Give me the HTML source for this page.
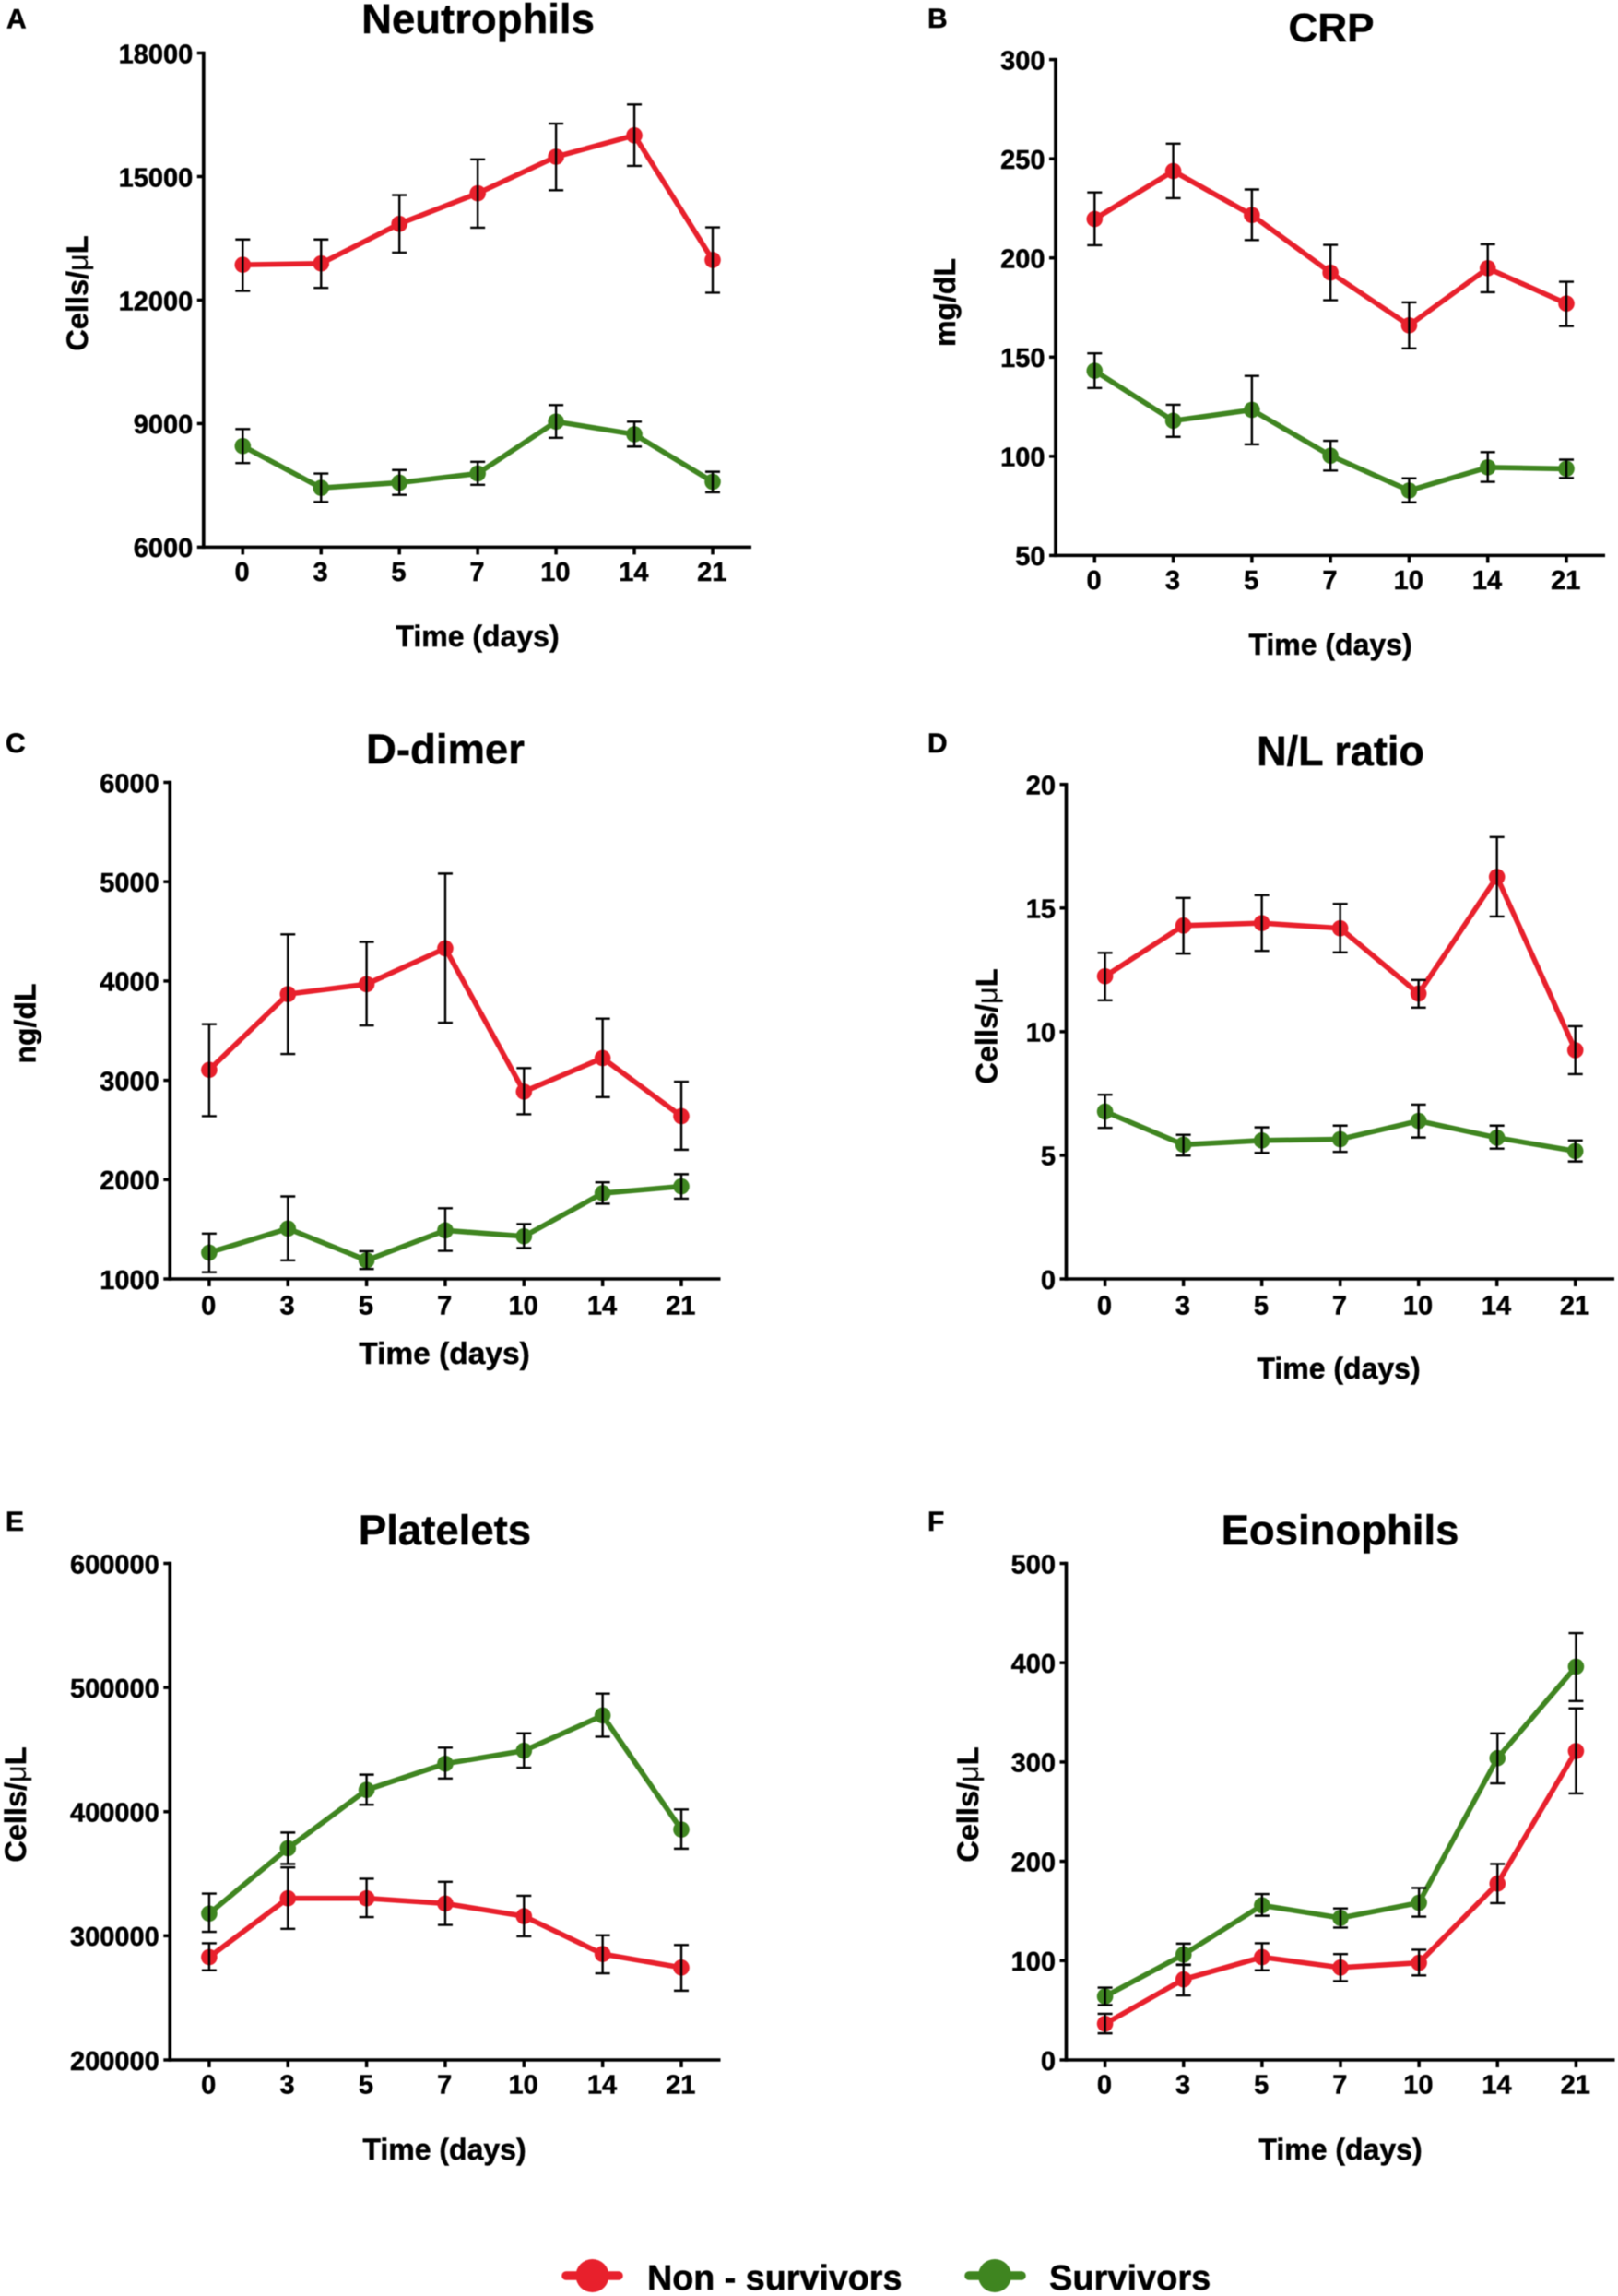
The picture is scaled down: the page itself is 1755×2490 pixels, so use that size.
<!DOCTYPE html>
<html lang="en">
<head>
<meta charset="utf-8">
<title>Laboratory time courses in survivors and non-survivors</title>
<style>
html,body{margin:0;padding:0;background:#fff;}
svg{display:block;filter:blur(0.45px);}
text{font-family:"Liberation Sans",sans-serif;font-weight:700;fill:#000;stroke:#000;stroke-width:0.45px;}
.tick{font-size:29px;}
.mu{font-weight:400;stroke-width:0;}
</style>
</head>
<body>
<svg id="figure" xmlns="http://www.w3.org/2000/svg" width="1755" height="2490" viewBox="0 0 1755 2490">
  <rect x="0" y="0" width="1755" height="2490" fill="#fff"/>

  <text x="7" y="30.5" font-size="30">A</text>
  <text x="1006" y="30" font-size="30">B</text>
  <text x="6" y="816" font-size="30">C</text>
  <text x="1006" y="816" font-size="30">D</text>
  <text x="6" y="1660" font-size="30">E</text>
  <text x="1006" y="1660" font-size="30">F</text>

  <text x="518.5" y="36" font-size="45.5" text-anchor="middle">Neutrophils</text>
  <text x="1444" y="45" font-size="44" text-anchor="middle">CRP</text>
  <text x="483" y="828" font-size="45.5" text-anchor="middle">D-dimer</text>
  <text x="1454" y="830" font-size="45" text-anchor="middle">N/L ratio</text>
  <text x="482.5" y="1675" font-size="45.5" text-anchor="middle">Platelets</text>
  <text x="1453.5" y="1675" font-size="45.5" text-anchor="middle">Eosinophils</text>

  <text x="518" y="701" font-size="32" text-anchor="middle">Time (days)</text>
  <text x="1443" y="710" font-size="32" text-anchor="middle">Time (days)</text>
  <text x="482" y="1479" font-size="33.5" text-anchor="middle">Time (days)</text>
  <text x="1452" y="1495" font-size="32" text-anchor="middle">Time (days)</text>
  <text x="482" y="2342" font-size="32" text-anchor="middle">Time (days)</text>
  <text x="1454" y="2342" font-size="32" text-anchor="middle">Time (days)</text>

  <text transform="translate(95 318) rotate(-90)" font-size="32.5" text-anchor="middle">Cells/<tspan class="mu">μ</tspan>L</text>
  <text transform="translate(1036 328) rotate(-90)" font-size="32" text-anchor="middle">mg/dL</text>
  <text transform="translate(38.5 1110) rotate(-90)" font-size="32" text-anchor="middle">ng/dL</text>
  <text transform="translate(1081.5 1113) rotate(-90)" font-size="32.5" text-anchor="middle">Cells/<tspan class="mu">μ</tspan>L</text>
  <text transform="translate(28 1957) rotate(-90)" font-size="32.5" text-anchor="middle">Cells/<tspan class="mu">μ</tspan>L</text>
  <text transform="translate(1061 1957) rotate(-90)" font-size="32.5" text-anchor="middle">Cells/<tspan class="mu">μ</tspan>L</text>

  <g>
    <g>
      <line x1="614" y1="2468" x2="671" y2="2468" stroke="#e8202c" stroke-width="9.5" stroke-linecap="round"/>
      <circle cx="642.5" cy="2468" r="18" fill="#e8202c"/>
      <text x="702" y="2483" font-size="37.7">Non - survivors</text>
    </g>
    <g>
      <line x1="1051" y1="2468" x2="1108" y2="2468" stroke="#3f8520" stroke-width="9.5" stroke-linecap="round"/>
      <circle cx="1079" cy="2468" r="18" fill="#3f8520"/>
      <text x="1138" y="2483" font-size="38">Survivors</text>
    </g>
  </g>
</svg>

<script>
// Shared category labels
var days = ["0", "3", "5", "7", "10", "14", "21"];

// Neutrophils
var neutrophilsTicks = [6000, 9000, 12000, 15000, 18000];
var neutrophilsNonSurvivors = [12857, 12889, 13852, 14593, 15481, 16000, 12974];
var neutrophilsNonSurvivorsUpper = [13471, 13471, 14550, 15418, 16286, 16751, 13767];
var neutrophilsNonSurvivorsLower = [12222, 12296, 13153, 13757, 14667, 15259, 12180];
var neutrophilsSurvivors = [8455, 7439, 7566, 7788, 9048, 8741, 7587];
var neutrophilsSurvivorsUpper = [8868, 7788, 7873, 8074, 9450, 9048, 7831];
var neutrophilsSurvivorsLower = [8042, 7100, 7270, 7513, 8656, 8444, 7333];

// CRP
var crpTicks = [50, 100, 150, 200, 250, 300];
var crpNonSurvivors = [219.6, 243.8, 221.6, 192.6, 166, 194.8, 177];
var crpNonSurvivorsUpper = [233, 257.6, 234.5, 206.6, 177.6, 206.9, 188];
var crpNonSurvivorsLower = [206.4, 230.1, 209, 178.7, 154.4, 182.7, 165.6];
var crpSurvivors = [143.1, 117.9, 123.4, 100.3, 82.7, 94.4, 93.7];
var crpSurvivorsUpper = [151.9, 126, 140.5, 107.8, 88.9, 102.1, 98.3];
var crpSurvivorsLower = [134.4, 109.8, 106, 92.8, 76.8, 87.1, 89.1];

// D-dimer
var dDimerTicks = [1000, 2000, 3000, 4000, 5000, 6000];
var dDimerNonSurvivors = [3105, 3868, 3968, 4329, 2886, 3224, 2639];
var dDimerNonSurvivorsUpper = [3566, 4470, 4393, 5082, 3123, 3621, 2986];
var dDimerNonSurvivorsLower = [2639, 3265, 3553, 3580, 2658, 2831, 2301];
var dDimerSurvivors = [1265, 1507, 1187, 1489, 1429, 1863, 1932];
var dDimerSurvivorsUpper = [1457, 1831, 1279, 1712, 1553, 1973, 2055];
var dDimerSurvivorsLower = [1068, 1187, 1100, 1283, 1311, 1758, 1808];

// N/L ratio
var nlRatioTicks = [0, 5, 10, 15, 20];
var nlRatioNonSurvivors = [12.24, 14.29, 14.39, 14.18, 11.54, 16.26, 9.25];
var nlRatioNonSurvivorsUpper = [13.19, 15.41, 15.52, 15.17, 12.09, 17.87, 10.22];
var nlRatioNonSurvivorsLower = [11.27, 13.16, 13.27, 13.21, 10.97, 14.66, 8.28];
var nlRatioSurvivors = [6.77, 5.43, 5.6, 5.65, 6.39, 5.71, 5.17];
var nlRatioSurvivorsUpper = [7.45, 5.83, 6.13, 6.2, 7.05, 6.2, 5.6];
var nlRatioSurvivorsLower = [6.11, 4.99, 5.1, 5.14, 5.72, 5.27, 4.75];

// Platelets
var plateletsTicks = [200000, 300000, 400000, 500000, 600000];
var plateletsNonSurvivors = [282800, 330200, 330200, 326000, 315800, 285300, 274400];
var plateletsNonSurvivorsUpper = [294000, 355100, 346000, 343500, 332300, 300400, 292600];
var plateletsNonSurvivorsLower = [272300, 305600, 315100, 308800, 299600, 269800, 255800];
var plateletsSurvivors = [317900, 370500, 417500, 438600, 449100, 477500, 385600];
var plateletsSurvivorsUpper = [334000, 383200, 429800, 451600, 463200, 495100, 401800];
var plateletsSurvivorsLower = [303200, 357900, 405600, 426700, 435400, 460400, 370200];

// Eosinophils
var eosinophilsTicks = [0, 100, 200, 300, 400, 500];
var eosinophilsNonSurvivors = [36.4, 81.1, 103.5, 93, 97.8, 177.6, 311];
var eosinophilsNonSurvivorsUpper = [46.5, 96, 117.5, 106.6, 111, 197.4, 354];
var eosinophilsNonSurvivorsLower = [26.8, 64.9, 90.4, 79.4, 85.1, 157.9, 268.4];
var eosinophilsSurvivors = [64, 106.1, 155.7, 143, 158.3, 303.9, 396];
var eosinophilsSurvivorsUpper = [72.8, 117.1, 167.1, 152.6, 173.2, 328.9, 429.8];
var eosinophilsSurvivorsLower = [55.3, 95.6, 145.2, 133.3, 144.3, 278.5, 361.4];

var RED = "#e8202c";
var GREEN = "#3f8520";
var NS = "http://www.w3.org/2000/svg";
var svg = document.getElementById("figure");

function make(tag, parent, attrs) {
  var el = document.createElementNS(NS, tag);
  for (var k in attrs) { el.setAttribute(k, attrs[k]); }
  parent.appendChild(el);
  return el;
}

function drawSeries(g, panelKey, seriesKey, color, xScale, yScale, mean, upper, lower) {
  var sg = make("g", g, {});
  
  

  var pts = mean.map(function (v, i) { return xScale(i).toFixed(2) + "," + yScale(v).toFixed(2); }).join(" ");
  var line = make("polyline", sg, { points: pts, fill: "none", stroke: color, "stroke-width": 5.6, "stroke-linejoin": "miter" });
  
  

  mean.forEach(function (v, i) {
    var dot = make("circle", sg, { cx: xScale(i), cy: yScale(v), r: 8.8, fill: color });
    
    
  });

  mean.forEach(function (v, i) {
    var x = xScale(i);
    var yU = yScale(upper[i]);
    var yL = yScale(lower[i]);
    var d = "M" + x + " " + yU + "V" + yL + "M" + (x - 8) + " " + yU + "H" + (x + 8) + "M" + (x - 8) + " " + yL + "H" + (x + 8);
    var bar = make("path", sg, { d: d, fill: "none", stroke: "#000", "stroke-width": 2.4 });
    
    
  });
}

function drawPanel(key, box, ticks, redMean, redUpper, redLower, greenMean, greenUpper, greenLower) {
  var tMin = ticks[0];
  var tMax = ticks[ticks.length - 1];
  var xScale = function (i) { return box.x0 + i * (box.x1 - box.x0) / (days.length - 1); };
  var yScale = function (v) { return box.bottom - (v - tMin) / (tMax - tMin) * (box.bottom - box.top); };

  var g = make("g", svg, {});
  
  

  var axisY = make("path", g, { d: "M" + box.axisX + " " + (box.top - 1.7) + "V" + (box.bottom + 1.7), fill: "none", stroke: "#000", "stroke-width": 3.7 });
  
  

  var axisX = make("path", g, { d: "M" + box.axisX + " " + box.bottom + "H" + box.axisEnd, fill: "none", stroke: "#000", "stroke-width": 3.5 });
  
  

  ticks.forEach(function (t) {
    var y = yScale(t);
    var tick = make("path", g, { d: "M" + (box.axisX - 7) + " " + y + "H" + box.axisX, stroke: "#000", "stroke-width": 3.5 });
    
    
    var label = make("text", g, { x: box.axisX - 11.5, y: y + 10.8, "text-anchor": "end", "class": "tick" });
    
    
    label.textContent = t;
  });

  days.forEach(function (d, i) {
    var x = xScale(i);
    var tick = make("path", g, { d: "M" + x + " " + box.bottom + "V" + (box.bottom + 8), stroke: "#000", "stroke-width": 3.5 });
    
    
    var label = make("text", g, { x: x - 0.7, y: box.bottom + box.labelGap, "text-anchor": "middle", "class": "tick" });
    
    
    label.textContent = d;
  });

  drawSeries(g, key, 'non-survivors', RED, xScale, yScale, redMean, redUpper, redLower);
  drawSeries(g, key, 'survivors', GREEN, xScale, yScale, greenMean, greenUpper, greenLower);
}

drawPanel("neutrophils", { axisX: 220.8, axisEnd: 815, top: 57.5, bottom: 593.4, x0: 263.3, x1: 773, labelGap: 36.6 },
  neutrophilsTicks, neutrophilsNonSurvivors, neutrophilsNonSurvivorsUpper, neutrophilsNonSurvivorsLower,
  neutrophilsSurvivors, neutrophilsSurvivorsUpper, neutrophilsSurvivorsLower);

drawPanel("crp", { axisX: 1145, axisEnd: 1741, top: 64.6, bottom: 602.4, x0: 1187.3, x1: 1699, labelGap: 36.6 },
  crpTicks, crpNonSurvivors, crpNonSurvivorsUpper, crpNonSurvivorsLower,
  crpSurvivors, crpSurvivorsUpper, crpSurvivorsLower);

drawPanel("d-dimer", { axisX: 184.3, axisEnd: 781.5, top: 848.5, bottom: 1387, x0: 226.9, x1: 739, labelGap: 38.5 },
  dDimerTicks, dDimerNonSurvivors, dDimerNonSurvivorsUpper, dDimerNonSurvivorsLower,
  dDimerSurvivors, dDimerSurvivorsUpper, dDimerSurvivorsLower);

drawPanel("nl-ratio", { axisX: 1156.5, axisEnd: 1751, top: 850.7, bottom: 1387, x0: 1198.6, x1: 1708.7, labelGap: 38.5 },
  nlRatioTicks, nlRatioNonSurvivors, nlRatioNonSurvivorsUpper, nlRatioNonSurvivorsLower,
  nlRatioSurvivors, nlRatioSurvivorsUpper, nlRatioSurvivorsLower);

drawPanel("platelets", { axisX: 184.3, axisEnd: 781.5, top: 1695.5, bottom: 2234, x0: 226.9, x1: 739, labelGap: 36.6 },
  plateletsTicks, plateletsNonSurvivors, plateletsNonSurvivorsUpper, plateletsNonSurvivorsLower,
  plateletsSurvivors, plateletsSurvivorsUpper, plateletsSurvivorsLower);

drawPanel("eosinophils", { axisX: 1156.5, axisEnd: 1751.5, top: 1695.5, bottom: 2234, x0: 1198.6, x1: 1709.4, labelGap: 36.6 },
  eosinophilsTicks, eosinophilsNonSurvivors, eosinophilsNonSurvivorsUpper, eosinophilsNonSurvivorsLower,
  eosinophilsSurvivors, eosinophilsSurvivorsUpper, eosinophilsSurvivorsLower);
</script>
</body>
</html>
